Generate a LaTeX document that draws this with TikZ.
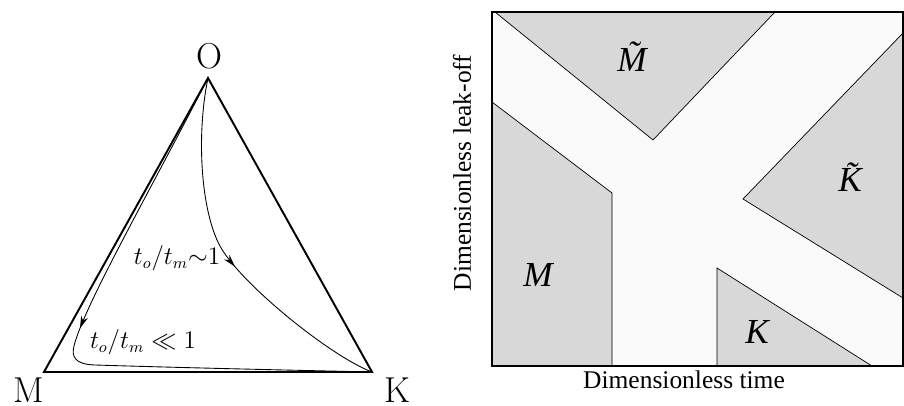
\documentclass[tikz,border=0pt]{standalone}
\usepackage{fontspec}
\newfontfamily\timesfont{Liberation Serif}
\usetikzlibrary{arrows.meta,decorations.markings}
\definecolor{regiongray}{RGB}{216,216,216}
\definecolor{bandwhite}{RGB}{250,250,250}
\tikzset{
  side/.style  ={line width=1.1pt, line join=miter},
  trail/.style ={line width=0.5pt, postaction={decorate},
                 decoration={markings, mark=at position #1 with {\arrow{Stealth[length=7pt,width=4pt]}}}},
  vtx/.style   ={font=\fontsize{20.5}{20.5}\selectfont, inner sep=0pt},
  ratio/.style ={font=\fontsize{13.5}{14}\selectfont, inner sep=0pt},
  frame/.style ={draw=black, line width=1.1pt, fill=bandwhite},
  region/.style={fill=regiongray, draw=black, line width=0.4pt},
  rlbl/.style  ={font=\timesfont\itshape\fontsize{20}{20}\selectfont, inner sep=0pt},
  axlbl/.style ={font=\timesfont\fontsize{14.5}{15}\selectfont, inner sep=0pt}
}

\begin{document}
\begin{tikzpicture}[x=0.02cm, y=0.02cm]
\useasboundingbox (0,0) rectangle (904,406);
\coordinate (O) at (208,328);
\coordinate (M) at (44,34);
\coordinate (K) at (372,34);
\node[vtx] (lo) at (209,350) {O};
\node[vtx] (lm) at (29,16) {M};
\node[vtx] (lk) at (397,16) {K};

\draw[side] (M) -- (O) -- (K) -- cycle;
\draw[trail=0.53] (O) .. controls (196,270) and (201,195) .. (220,160)
                      .. controls (240,123) and (330,50) .. (K);
\draw[trail=0.46] (O) .. controls (150,215) and (84,100) .. (74,60)
                      .. controls (71.5,50) and (74,41.6) .. (95,41)
                      .. controls (200,37.7) and (330,35) .. (K);
\node[ratio] (slow) at (177,148) {$t_o/t_m{\sim}1$};
\node[ratio] (fast) at (143,64) {$t_o/t_m \ll 1$};

\draw[frame] (492,40) rectangle (903,394);
\draw[region] (495,394) -- (653,266) -- (775,394) -- cycle;
\draw[region] (492,304) -- (612,213) -- (612,40) -- (492,40) -- cycle;
\draw[region] (903,373) -- (743,207) -- (903,108) -- cycle;
\draw[region] (717,40) -- (717,138) -- (872,40) -- cycle;
\draw[line width=1.1pt] (492,40) rectangle (903,394);
\node[rlbl] (mt) at (632,349) {\~{M}};
\node[rlbl] (kt) at (850,229) {\~{K}};
\node[rlbl] (mm) at (538,131) {M};
\node[rlbl] (kk) at (757,74) {K};
\node[axlbl, rotate=90] (ylab) at (462,233) {Dimensionless leak-off};
\node[axlbl] (xlab) at (684,26) {Dimensionless time};
\end{tikzpicture}
\end{document}
